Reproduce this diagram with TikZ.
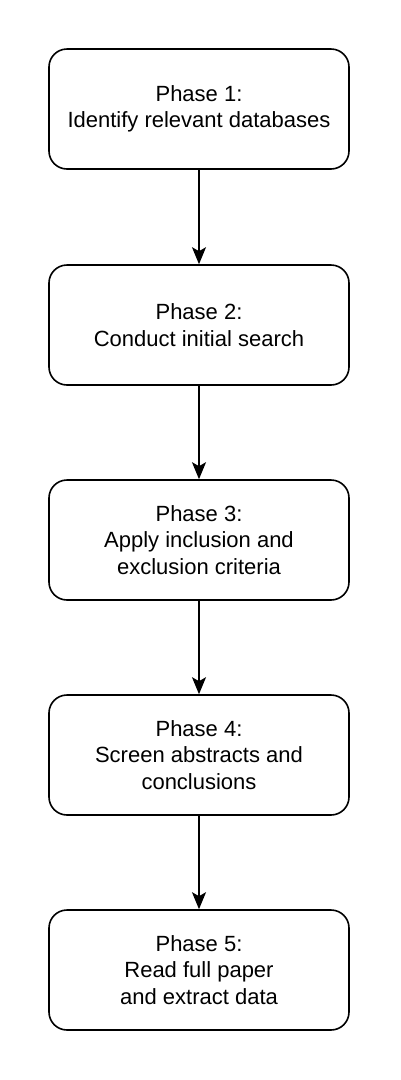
\documentclass[tikz,border=0pt]{standalone}
\usepackage{fontspec}
\setmainfont{Liberation Sans}
\usetikzlibrary{arrows.meta}
\begin{document}
\begin{tikzpicture}[x=1pt,y=-1pt,
  phasebox/.style={draw=black, line width=1.6pt, rounded corners=18pt, fill=white,
    minimum width=300pt, minimum height=120pt, align=center, inner sep=0pt,
    font=\fontsize{22}{26.5}\selectfont},
  conn/.style={line width=1.6pt, -{Stealth[length=17pt,width=14pt,inset=4pt]}}]
\useasboundingbox[fill=white] (0,0) rectangle (400,1080);
\node[phasebox] (p1) at (199,109) {Phase 1:\\Identify relevant databases};
\node[phasebox] (p2) at (199,325) {Phase 2:\\Conduct initial search};
\node[phasebox] (p3) at (199,540) {Phase 3:\\Apply inclusion and\\exclusion criteria};
\node[phasebox] (p4) at (199,755) {Phase 4:\\Screen abstracts and\\conclusions};
\node[phasebox] (p5) at (199,970) {Phase 5:\\Read full paper\\and extract data};
\draw[conn] (p1) -- (p2);
\draw[conn] (p2) -- (p3);
\draw[conn] (p3) -- (p4);
\draw[conn] (p4) -- (p5);
\end{tikzpicture}
\end{document}
